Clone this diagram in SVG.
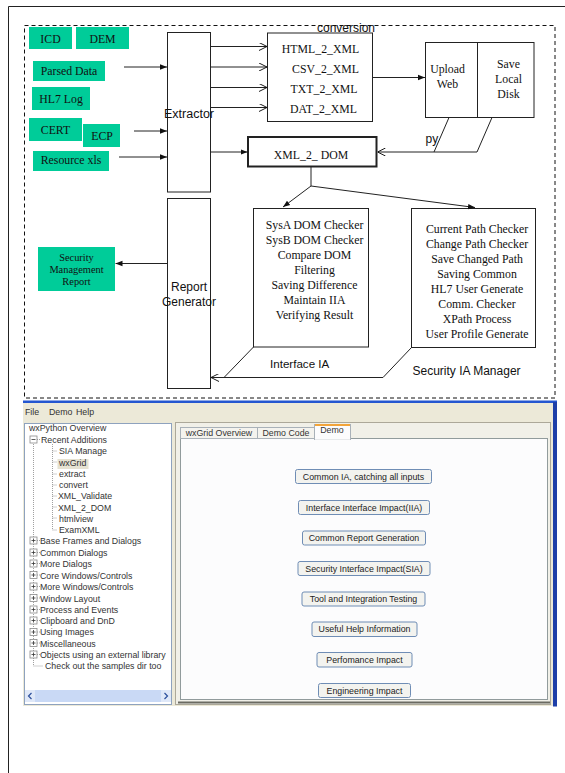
<svg xmlns="http://www.w3.org/2000/svg" width="565" height="773" viewBox="0 0 565 773">
<style>
.g{fill:#00cc99}
.box{fill:#fff;stroke:#222;stroke-width:1}
.st{font-family:"Liberation Serif",serif;font-size:11.8px;fill:#111;text-anchor:middle}
.sm{font-family:"Liberation Serif",serif;font-size:10.4px;fill:#111;text-anchor:middle}
.ss{font-family:"Liberation Sans",Arial,sans-serif;font-size:12px;fill:#111}
.ln{fill:none;stroke:#222;stroke-width:1}
.ui{font-family:"Liberation Sans",Arial,sans-serif;font-size:8.8px;fill:#333}
.btn{fill:#f3f3ef;stroke:#6f8db5;stroke-width:1}
.bt{font-family:"Liberation Sans",Arial,sans-serif;font-size:8.8px;fill:#222;text-anchor:middle}
.tl{stroke:#a0a0a0;stroke-width:1;stroke-dasharray:1,1;fill:none}
.pb{fill:#fff;stroke:#8a8a8a;stroke-width:0.8}
</style>
<defs>
<marker id="af" viewBox="0 0 10 10" refX="10" refY="5" markerWidth="7" markerHeight="7" markerUnits="userSpaceOnUse" orient="auto"><path d="M0,1.2 L10,5 L0,8.8 z" fill="#111"/></marker>
<marker id="ao" viewBox="0 0 10 10" refX="10" refY="5" markerWidth="8" markerHeight="8" markerUnits="userSpaceOnUse" orient="auto"><path d="M0,0 L10,5 L0,10" fill="none" stroke="#111" stroke-width="1.2"/></marker>
</defs>
<rect width="565" height="773" fill="#fff"/>
<!-- page border -->
<path d="M8.5,773 V6.5 H565" fill="none" stroke="#222" stroke-width="1"/>
<!-- dashed frame -->
<rect x="24.5" y="25.5" width="530.5" height="372.5" fill="none" stroke="#111" stroke-width="1" stroke-dasharray="4,3"/>

<g id="icd"><rect class="g" x="29" y="27" width="43" height="22"/><text class="st" x="50.5" y="42.5">ICD</text></g>
<g id="dem"><rect class="g" x="76" y="27" width="53" height="22"/><text class="st" x="102.5" y="42.5">DEM</text></g>
<g id="parsed"><rect class="g" x="33" y="61" width="72" height="20"/><text class="st" x="69" y="74.5">Parsed Data</text></g>
<g id="hl7"><rect class="g" x="32" y="87" width="58" height="23"/><text class="st" x="61" y="102.5">HL7 Log</text></g>
<g id="cert"><rect class="g" x="29" y="118" width="53" height="23"/><text class="st" x="55.5" y="133.5">CERT</text></g>
<g id="ecp"><rect class="g" x="83" y="124" width="37" height="23"/><text class="st" x="102" y="139.5">ECP</text></g>
<g id="resource"><rect class="g" x="33" y="151" width="76" height="20"/><text class="st" x="71" y="164">Resource xls</text></g>

<g id="extractor"><rect class="box" x="167.5" y="32.5" width="43" height="159.5"/><text class="ss" x="189" y="117.5" text-anchor="middle" style="font-size:12.5px">Extractor</text></g>

<g id="conversion"><rect class="box" x="267.5" y="33" width="105" height="88.5"/>
<text class="ss" x="346" y="31.5" text-anchor="middle">conversion</text>
<text class="st" x="320.5" y="52.5">HTML_2_XML</text>
<text class="st" x="325.5" y="72.7">CSV_2_XML</text>
<text class="st" x="324" y="92.7">TXT_2_XML</text>
<text class="st" x="323.5" y="112.7">DAT_2_XML</text></g>

<g id="upload"><rect class="box" x="425.5" y="42.5" width="108.5" height="75"/><path class="ln" d="M477.5,42.5 V117.5"/>
<text class="st" x="447.5" y="73.3">Upload</text><text class="st" x="447.5" y="87.7">Web</text>
<text class="st" x="508.5" y="67.7">Save</text><text class="st" x="508.5" y="83">Local</text><text class="st" x="508.5" y="97.7">Disk</text></g>

<g id="xml2dom"><rect x="248" y="137" width="128.5" height="29.5" fill="#fff" stroke="#222" stroke-width="2"/><text class="st" x="311" y="159.3">XML_2_ DOM</text></g>

<g id="report"><rect class="box" x="167.5" y="198.5" width="43" height="190"/><text class="ss" x="189" y="291" text-anchor="middle">Report</text><text class="ss" x="189" y="305.7" text-anchor="middle">Generator</text></g>

<g id="smr"><rect class="g" x="38" y="247" width="77" height="44"/><text class="sm" x="76.5" y="260.5">Security</text><text class="sm" x="76.5" y="272.6">Management</text><text class="sm" x="76.5" y="284.7">Report</text></g>

<g id="interface"><rect class="box" x="253.5" y="208.5" width="115" height="138.5"/>
<text class="st" x="314.5" y="229">SysA DOM Checker</text>
<text class="st" x="314.5" y="244">SysB DOM Checker</text>
<text class="st" x="314.5" y="259">Compare DOM</text>
<text class="st" x="314.5" y="274">Filtering</text>
<text class="st" x="314.5" y="289">Saving Difference</text>
<text class="st" x="314.5" y="304">Maintain IIA</text>
<text class="st" x="314.5" y="319">Verifying Result</text></g>

<g id="security"><rect class="box" x="411.5" y="208.5" width="124" height="139"/>
<text class="st" x="477" y="232.7">Current Path Checker</text>
<text class="st" x="477" y="247.7">Change Path Checker</text>
<text class="st" x="477" y="262.7">Save Changed Path</text>
<text class="st" x="477" y="277.7">Saving Common</text>
<text class="st" x="477" y="292.7">HL7 User Generate</text>
<text class="st" x="477" y="307.7">Comm. Checker</text>
<text class="st" x="477" y="322.7">XPath Process</text>
<text class="st" x="477" y="337.7">User Profile Generate</text></g>

<g id="connectors">
<path class="ln" d="M124,67 H167" marker-end="url(#af)"/>
<path class="ln" d="M134,131 H167" marker-end="url(#af)"/>
<path class="ln" d="M119,157 H167" marker-end="url(#af)"/>
<path class="ln" d="M210.5,46.5 H267" marker-end="url(#ao)"/>
<path class="ln" d="M210.5,67 H267" marker-end="url(#ao)"/>
<path class="ln" d="M210.5,87.5 H267" marker-end="url(#ao)"/>
<path class="ln" d="M210.5,107.5 H267" marker-end="url(#ao)"/>
<path class="ln" d="M372.5,77.5 H425" marker-end="url(#af)"/>
<path class="ln" d="M210.5,152 H247.5" marker-end="url(#af)"/>
<path class="ln" d="M449,117.5 L434,152"/>
<path class="ln" d="M492,117.5 L477,152 H377.5" marker-end="url(#ao)"/>
<text class="ss" x="425.5" y="143">py</text>
<path class="ln" d="M311,166.5 V186 L283,207" marker-end="url(#af)"/>
<path class="ln" d="M311,186 L475,207.5" marker-end="url(#af)"/>
<path class="ln" d="M167.5,263.5 H115.5" marker-end="url(#af)"/>
<path class="ln" d="M253.5,347 L224,377.5"/>
<path class="ln" d="M411.5,347.5 L383,377.5 H211" marker-end="url(#ao)"/>
<text class="ss" x="270" y="368.3" style="font-size:11.6px">Interface IA</text>
<text class="ss" x="412.5" y="375">Security IA Manager</text>
</g>

<!-- screenshot -->
<g id="screenshot">
<rect x="23" y="402" width="532" height="304" fill="#ece9d8"/>
<rect x="23" y="400.5" width="534" height="2.5" fill="#2456d0"/>
<rect x="553" y="402" width="4" height="304.5" fill="#1e3fa8"/>
<text class="ui" x="25" y="415" fill="#222">File</text>
<text class="ui" x="49" y="415" fill="#222">Demo</text>
<text class="ui" x="76" y="415" fill="#222">Help</text>
<rect x="24.5" y="423.5" width="147" height="281" fill="#fff" stroke="#8ea2be" stroke-width="1"/>
<!-- tree lines -->
<path class="tl" d="M33.5,444 V666 H43"/>
<path class="tl" d="M52.5,444 V530 M52.5,451 H57 M52.5,462 H57 M52.5,474 H57 M52.5,485 H57 M52.5,496 H57 M52.5,507 H57 M52.5,518 H57 M52.5,530 H57"/>
<path class="tl" d="M37,439.5 H40 M37,540.5 H40 M37,552.5 H40 M37,563.5 H40 M37,575 H40 M37,586.5 H40 M37,598 H40 M37,609.5 H40 M37,620.5 H40 M37,632 H40 M37,643 H40 M37,654.5 H40"/>
<rect class="pb" x="30" y="436" width="7" height="7"/><path d="M31.5,439.5 H35.5" stroke="#333" stroke-width="0.8"/>
<g fill="#fff" stroke="#8a8a8a" stroke-width="0.8">
<rect x="30" y="537" width="7" height="7"/><rect x="30" y="549" width="7" height="7"/><rect x="30" y="560" width="7" height="7"/><rect x="30" y="571.5" width="7" height="7"/><rect x="30" y="583" width="7" height="7"/><rect x="30" y="594.5" width="7" height="7"/><rect x="30" y="606" width="7" height="7"/><rect x="30" y="617" width="7" height="7"/><rect x="30" y="628.5" width="7" height="7"/><rect x="30" y="639.5" width="7" height="7"/><rect x="30" y="651" width="7" height="7"/>
</g>
<path d="M31.5,540.5 H35.5 M33.5,538.5 V542.5 M31.5,552.5 H35.5 M33.5,550.5 V554.5 M31.5,563.5 H35.5 M33.5,561.5 V565.5 M31.5,575 H35.5 M33.5,573 V577 M31.5,586.5 H35.5 M33.5,584.5 V588.5 M31.5,598 H35.5 M33.5,596 V600 M31.5,609.5 H35.5 M33.5,607.5 V611.5 M31.5,620.5 H35.5 M33.5,618.5 V622.5 M31.5,632 H35.5 M33.5,630 V634 M31.5,643 H35.5 M33.5,641 V645 M31.5,654.5 H35.5 M33.5,652.5 V656.5" stroke="#333" stroke-width="0.8"/>
<rect x="57.5" y="459" width="31" height="10" fill="#e6e2d2"/>
<text class="ui" x="29" y="431">wxPython Overview</text>
<text class="ui" x="41" y="442.7">Recent Additions</text>
<text class="ui" x="59" y="454.3">SIA Manage</text>
<text class="ui" x="59" y="465.7">wxGrid</text>
<text class="ui" x="59" y="477.3">extract</text>
<text class="ui" x="59" y="488.3">convert</text>
<text class="ui" x="58" y="499.3">XML_Validate</text>
<text class="ui" x="58" y="510.7">XML_2_DOM</text>
<text class="ui" x="59" y="521.7">htmlview</text>
<text class="ui" x="59" y="532.7">ExamXML</text>
<text class="ui" x="40" y="544">Base Frames and Dialogs</text>
<text class="ui" x="40" y="556">Common Dialogs</text>
<text class="ui" x="40" y="567.3">More Dialogs</text>
<text class="ui" x="40" y="578.7">Core Windows/Controls</text>
<text class="ui" x="40" y="590">More Windows/Controls</text>
<text class="ui" x="40" y="601.7">Window Layout</text>
<text class="ui" x="40" y="613">Process and Events</text>
<text class="ui" x="40" y="624">Clipboard and DnD</text>
<text class="ui" x="40" y="635.3">Using Images</text>
<text class="ui" x="40" y="646.7">Miscellaneous</text>
<text class="ui" x="40" y="658">Objects using an external library</text>
<text class="ui" x="45" y="669.3">Check out the samples dir too</text>
<!-- scrollbar -->
<rect x="25" y="690" width="146" height="12" fill="#c9d9f5"/>
<rect x="25" y="690" width="10" height="12" fill="#dfe8f8"/>
<rect x="161" y="690" width="10" height="12" fill="#dfe8f8"/>
<path d="M31.5,693 L28.5,696 L31.5,699 M164.5,693 L167.5,696 L164.5,699" fill="none" stroke="#2b4f9c" stroke-width="1.2"/>
<!-- right pane -->
<rect x="175.5" y="422.5" width="375" height="282" fill="#f1f0e8" stroke="#aca899" stroke-width="1"/>
<rect x="180.5" y="438.5" width="367" height="261" fill="#fcfcfd" stroke="#919b9c" stroke-width="1"/>
<path d="M178,702.5 H550" stroke="#6b6b62" stroke-width="2"/>
<rect x="180.5" y="427.5" width="77" height="11" fill="#f4f3ee" stroke="#a9b1b8" stroke-width="1"/>
<rect x="257.5" y="427.5" width="57" height="11" fill="#f4f3ee" stroke="#a9b1b8" stroke-width="1"/>
<rect x="314.5" y="424.5" width="36" height="15" fill="#fcfcfd" stroke="#a9b1b8" stroke-width="1"/>
<path d="M315,425 H350" stroke="#f2a43a" stroke-width="2"/>
<path d="M315,439 H350" stroke="#fcfcfd" stroke-width="1.5"/>
<text class="ui" x="219" y="436" text-anchor="middle" fill="#222">wxGrid Overview</text>
<text class="ui" x="286" y="436" text-anchor="middle" fill="#222">Demo Code</text>
<text class="ui" x="332" y="433" text-anchor="middle" fill="#222">Demo</text>
<g id="btn1"><rect class="btn" x="295.5" y="469.5" width="136" height="14" rx="2"/><text class="bt" x="363.5" y="479.5">Common IA, catching all inputs</text></g>
<g id="btn2"><rect class="btn" x="298.5" y="500.5" width="131" height="14" rx="2"/><text class="bt" x="364" y="510.5">Interface Interface Impact(IIA)</text></g>
<g id="btn3"><rect class="btn" x="302.5" y="531" width="123" height="14" rx="2"/><text class="bt" x="364" y="541">Common Report Generation</text></g>
<g id="btn4"><rect class="btn" x="298" y="561.5" width="132" height="14" rx="2"/><text class="bt" x="364" y="571.5">Security Interface Impact(SIA)</text></g>
<g id="btn5"><rect class="btn" x="302" y="592" width="123" height="14" rx="2"/><text class="bt" x="363.5" y="602">Tool and Integration Testing</text></g>
<g id="btn6"><rect class="btn" x="312" y="622" width="105" height="14.5" rx="2"/><text class="bt" x="364.5" y="632.3">Useful Help Information</text></g>
<g id="btn7"><rect class="btn" x="317" y="652.5" width="95" height="14.5" rx="2"/><text class="bt" x="364.5" y="662.8">Perfomance Impact</text></g>
<g id="btn8"><rect class="btn" x="318.5" y="683.5" width="92" height="14" rx="2"/><text class="bt" x="364.5" y="693.5">Engineering Impact</text></g>
</g>
</svg>
